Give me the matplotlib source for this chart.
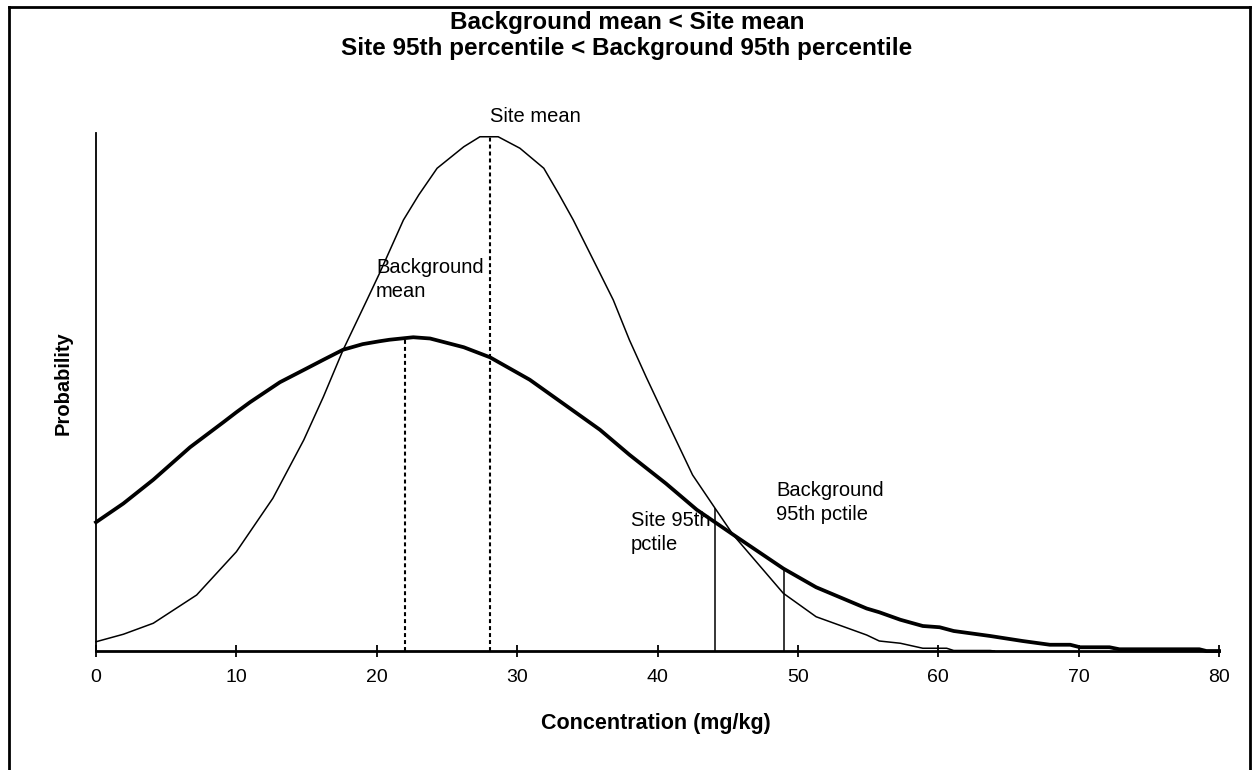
import matplotlib
matplotlib.use("Agg")
import matplotlib.pyplot as plt
from matplotlib.lines import Line2D

plt.rcParams['font.family'] = ['Liberation Sans', 'DejaVu Sans']

# Background distribution (thick curve)
bg_x = [0, 1.95, 4.08, 6.7, 9.07, 10.0, 10.97, 13.1, 15.0, 16.2, 17.6, 19.0, 20.2, 20.9,
        22.6, 23.8, 26.2, 28.06, 30.9, 34.9, 35.9, 38.0, 40.6, 42.8, 44.1, 45.4, 48.96,
        51.3, 54.9, 55.8, 57.3, 58.9, 60.1, 61.1, 63.7, 66.0, 67.95, 69.4, 70.1, 72.2,
        72.9, 78.6, 79.1, 80]
bg_y = [0.0103, 0.0118, 0.0137, 0.0163, 0.0183, 0.0191, 0.0199, 0.0215, 0.0226, 0.0233,
        0.0241, 0.02455, 0.02478, 0.0249, 0.0251, 0.0250, 0.0243, 0.0235, 0.0217, 0.0185,
        0.0177, 0.0157, 0.0134, 0.0113, 0.0103, 0.0093, 0.0066, 0.0051, 0.0034, 0.0031,
        0.0025, 0.0020, 0.0019, 0.0016, 0.0012, 0.0008, 0.0005, 0.0005, 0.0003, 0.0003,
        0.00014, 0.00014, 0.0, 0.0]

# Site distribution (thin curve)
site_x = [0, 1.95, 4.08, 7.17, 10.0, 12.6, 14.8, 16.2, 17.6, 19.3, 20.2, 21.9, 23.0, 24.3,
          26.2, 27.35, 28.65, 30.2, 31.9, 33.0, 34.0, 35.9, 36.85, 38.0, 39.2, 40.6, 42.5,
          44.1, 45.4, 48.96, 51.3, 54.9, 55.8, 57.3, 58.9, 60.6, 61.1, 63.7, 64.0]
site_y = [0.00074, 0.00134, 0.00222, 0.00448, 0.00794, 0.01222, 0.01688, 0.02034, 0.02408,
          0.02808, 0.03022, 0.03448, 0.03650, 0.03862, 0.04034, 0.04114, 0.04114, 0.04022,
          0.03862, 0.03650, 0.03448, 0.03022, 0.02808, 0.02488, 0.02190, 0.01856, 0.01408,
          0.01142, 0.00928, 0.00462, 0.00274, 0.00128, 0.0008, 0.00062, 0.00022, 0.00022,
          0.00004, 0.00004, 0.0]

bg_mean, bg_mean_h = 22.0, 0.0251
site_mean, site_mean_h = 28.1, 0.04114
site_p95, site_p95_h = 44.1, 0.01142
bg_p95, bg_p95_h = 49.0, 0.0066

x_ticks = [0, 10, 20, 30, 40, 50, 60, 70, 80]
title_lines = ["Background mean < Site mean",
               "Site 95th percentile < Background 95th percentile"]

W, H = 1254, 770
fig = plt.figure(figsize=(W / 100, H / 100), dpi=100)
ax = fig.add_axes([96 / W, 1 - 651 / H, (1219 - 96) / W, (651 - 133) / H])

ax.plot(site_x, site_y, color='black', lw=1.1, clip_on=False, zorder=3)
ax.plot(bg_x, bg_y, color='black', lw=2.7, clip_on=False, zorder=3,
        solid_joinstyle='round')

dots = (0, (1.9, 1.45))
ax.vlines([bg_mean], 0, [bg_mean_h], colors='black', linestyles=[dots], lw=1.5)
ax.vlines([site_mean], 0, [site_mean_h], colors='black', linestyles=[dots], lw=1.5)
ax.vlines([site_p95], 0, [site_p95_h], colors='black', lw=1.1)
ax.vlines([bg_p95], 0, [bg_p95_h], colors='black', lw=1.1)

ax.set_xlim(0, 80)
ax.set_ylim(0, 0.04144)
ax.set_xticks(x_ticks)
ax.set_xticklabels([str(t) for t in x_ticks], fontsize=14)
ax.set_yticks([])
ax.tick_params(axis='x', direction='inout', length=8, width=1.3, pad=9)
for s in ['top', 'right']:
    ax.spines[s].set_visible(False)
ax.spines['bottom'].set_linewidth(2.0)
ax.spines['left'].set_linewidth(1.3)


def ptxt(px, py, s, **kw):
    fig.text(px / W, 1 - py / H, s, **kw)


ptxt(656, 723, "Concentration (mg/kg)", ha='center', va='center',
     fontsize=15.5, fontweight='bold')
ptxt(63, 383, "Probability", ha='center', va='center', rotation=90,
     fontsize=14.5, fontweight='bold')

ann = dict(fontsize=14.5, linespacing=1.35, ha='left', va='baseline')
ptxt(490, 122, "Site mean", **ann)
ptxt(376, 297, "Background\nmean", **ann)
ptxt(631, 550, "Site 95th\npctile", **ann)
ptxt(776, 520, "Background\n95th pctile", **ann)

ptxt(627, 23, title_lines[0], ha='center', va='center', fontsize=17.5, fontweight='bold')
ptxt(627, 49, title_lines[1], ha='center', va='center', fontsize=17.5, fontweight='bold')

# chart-area frame
fl, fr, ft, fb = 9 / W, 1250 / W, 1 - 7 / H, -0.05
for xs, ys in [([fl, fl], [fb, ft]), ([fl, fr], [ft, ft]), ([fr, fr], [ft, fb])]:
    fig.add_artist(Line2D(xs, ys, color='black', lw=2.0, transform=fig.transFigure))

fig.savefig("out.png", dpi=100)
